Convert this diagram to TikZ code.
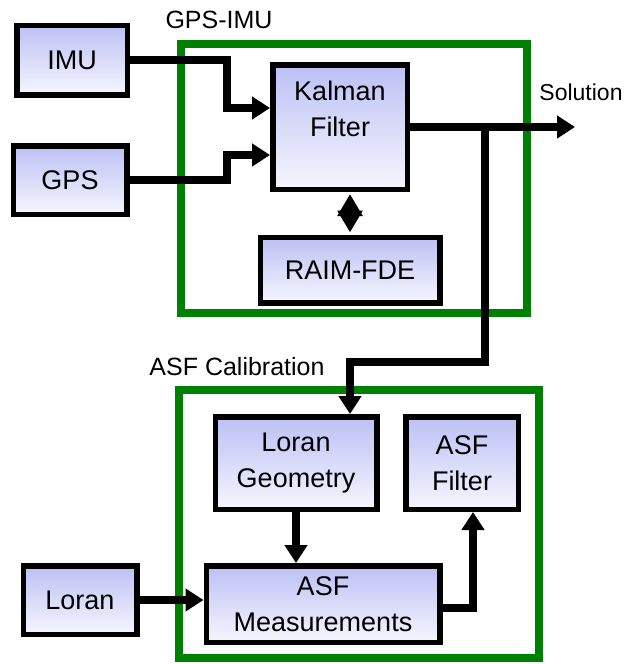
\documentclass[tikz,border=0pt]{standalone}
\usepackage{fontspec}
\setmainfont{Liberation Sans}
\usetikzlibrary{arrows.meta,calc}
\definecolor{gbgreen}{HTML}{008000}
\definecolor{gbtop}{HTML}{BCC0F4}
\definecolor{gbbot}{HTML}{F6F6FE}
\tikzset{
  blk/.style  = {rectangle, draw=black, line width=5.5pt, top color=gbtop,
                 bottom color=gbbot, align=center, inner sep=0pt,
                 font=\fontsize{27}{36}\selectfont},
  grp/.style  = {rectangle, draw=gbgreen, line width=8pt, inner sep=0pt},
  ttl/.style  = {font=\fontsize{25}{30}\selectfont, inner sep=1pt},
  fl/.style   = {-{Triangle[length=18pt,width=22pt]}, line width=8pt},
  dfl/.style  = {{Triangle[length=22pt,width=24pt]}-{Triangle[length=22pt,width=24pt]},
                 line width=6pt, shorten <=2pt, shorten >=2pt},
}

\begin{document}
\begin{tikzpicture}[x=1pt,y=-1pt]
  \useasboundingbox (0,0) rectangle (625,664);
  % groups
  \node[grp, minimum width=346, minimum height=269] (gpsimu) at (354,178.5) {};
  \node[grp, minimum width=360, minimum height=268] (asfcal) at (359,524) {};
  \node[ttl] (gpsimulbl) at (219,20) {GPS-IMU};
  \node[ttl] (asfcallbl) at (237,367) {ASF Calibration};
  \node[ttl, font=\fontsize{23}{28}\selectfont] (sollbl) at (581,92) {Solution};
  % blocks
  \node[blk, minimum width=110.5, minimum height=69.5] (imu) at (72,60) {IMU};
  \node[blk, minimum width=113.5, minimum height=68.5] (gps) at (70,180) {GPS};
  \node[blk, minimum width=134.5, minimum height=124.5] (kf) at (340,127) {Kalman\\Filter\\~};
  \node[blk, minimum width=179.5, minimum height=65.5] (raim) at (350,270) {RAIM-FDE};
  \node[blk, minimum width=161.5, minimum height=92.5] (lgeo) at (296,463) {Loran\\Geometry};
  \node[blk, minimum width=112.5, minimum height=92.5] (asff) at (462,463) {ASF\\Filter};
  \node[blk, minimum width=233.5, minimum height=76.5] (asfm) at (323,604) {ASF\\Measurements};
  \node[blk, minimum width=113.5, minimum height=68.5] (loran) at (80,600) {Loran};
  \coordinate (sol) at (575,127);
  \coordinate (br) at (485,127);
  % connectors
  \draw[fl] (imu.east) -- ++(97,0) |- ([yshift=19pt]kf.west);
  \draw[fl] (gps.east) -- ++(97,0) |- ([yshift=-28pt]kf.west);
  \draw[fl] (kf.east) -- (sol);
  \draw[fl] (br) -- (485,362) -| ([xshift=54pt]lgeo.north);
  \draw[dfl] ([xshift=10pt]kf.south) -- (raim.north);
  \draw[fl] (lgeo.south) -- (lgeo.south |- asfm.north);
  \draw[fl] (loran.east) -- (loran.east -| asfm.west);
  \draw[fl] ([yshift=-4pt]asfm.east) -| ([xshift=11pt]asff.south);
\end{tikzpicture}
\end{document}
